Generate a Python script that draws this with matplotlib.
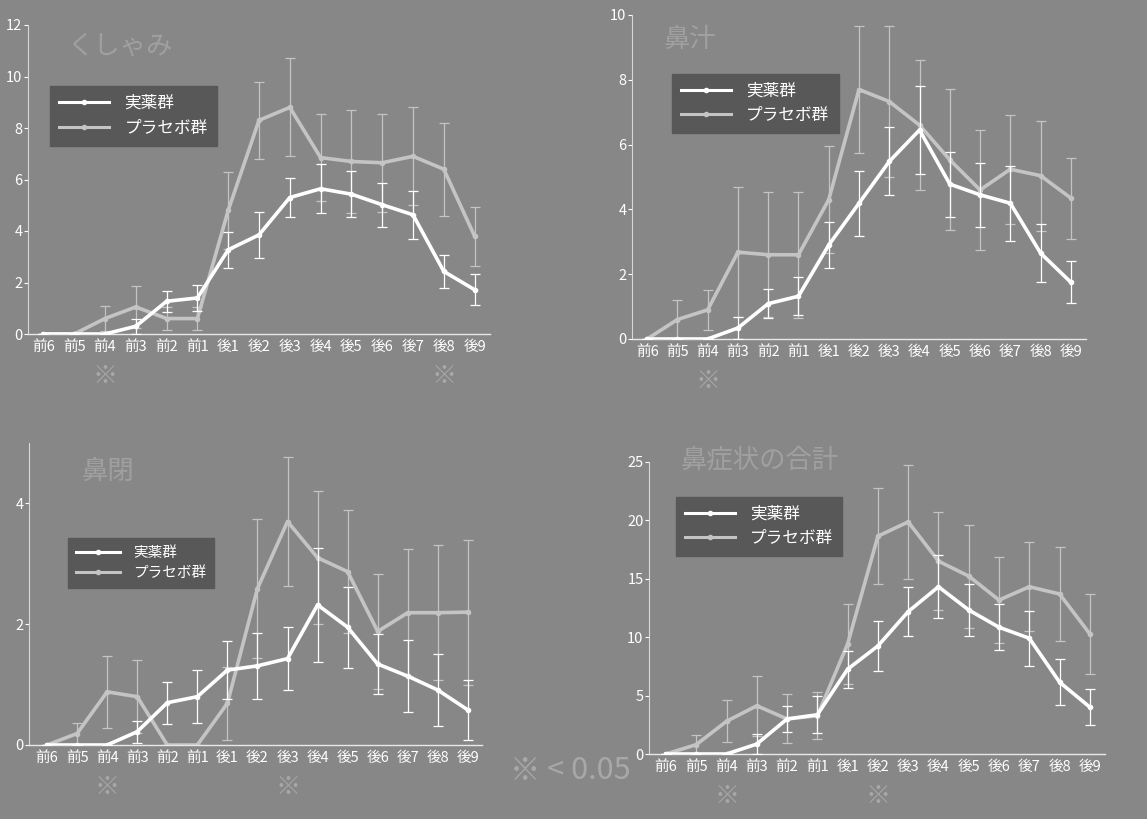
import numpy as np
import matplotlib.pyplot as plt
from matplotlib.lines import Line2D

plt.rcParams['font.family'] = ['Noto Sans CJK JP', 'DejaVu Sans']

labels = ['前6', '前5', '前4', '前3', '前2', '前1',
          '後1', '後2', '後3', '後4', '後5', '後6', '後7', '後8', '後9']

# くしゃみ
sneeze_act = [0, 0, 0, 0.3, 1.27, 1.4, 3.27, 3.85, 5.3, 5.64, 5.43, 5.02, 4.63, 2.43, 1.72]
sneeze_act_err = [0, 0, 0, 0.3, 0.4, 0.5, 0.7, 0.9, 0.75, 0.95, 0.9, 0.85, 0.93, 0.65, 0.6]
sneeze_pla = [0, 0, 0.6, 1.05, 0.6, 0.6, 4.8, 8.3, 8.8, 6.85, 6.7, 6.65, 6.9, 6.4, 3.8]
sneeze_pla_err = [0, 0, 0.5, 0.8, 0.45, 0.45, 1.5, 1.5, 1.9, 1.7, 2.0, 1.9, 1.9, 1.8, 1.15]

# 鼻汁
runny_act = [0, 0, 0, 0.34, 1.09, 1.32, 2.9, 4.19, 5.48, 6.45, 4.78, 4.45, 4.19, 2.65, 1.75]
runny_act_err = [0, 0, 0, 0.35, 0.45, 0.58, 0.72, 1.0, 1.05, 1.36, 1.0, 0.98, 1.16, 0.9, 0.65]
runny_pla = [0, 0.6, 0.9, 2.68, 2.6, 2.6, 4.3, 7.7, 7.33, 6.6, 5.53, 4.6, 5.24, 5.04, 4.35]
runny_pla_err = [0, 0.6, 0.62, 2.0, 1.93, 1.95, 1.65, 1.95, 2.33, 2.0, 2.18, 1.85, 1.68, 1.7, 1.25]

# 鼻閉
block_act = [0, 0, 0, 0.22, 0.7, 0.8, 1.24, 1.31, 1.43, 2.32, 1.95, 1.34, 1.14, 0.91, 0.58]
block_act_err = [0, 0, 0, 0.18, 0.35, 0.44, 0.48, 0.55, 0.52, 0.94, 0.67, 0.5, 0.6, 0.59, 0.5]
block_pla = [0, 0.19, 0.88, 0.8, 0, 0, 0.69, 2.59, 3.7, 3.1, 2.87, 1.88, 2.19, 2.19, 2.2]
block_pla_err = [0, 0.18, 0.6, 0.6, 0, 0, 0.6, 1.15, 1.06, 1.1, 1.02, 0.95, 1.05, 1.12, 1.2]

# 鼻症状の合計
total_act = [0, 0, 0, 0.85, 3.0, 3.36, 7.26, 9.25, 12.19, 14.32, 12.33, 10.85, 9.91, 6.15, 4.01]
total_act_err = [0, 0, 0, 0.85, 1.15, 1.6, 1.6, 2.15, 2.1, 2.7, 2.2, 1.95, 2.35, 1.95, 1.55]
total_pla = [0, 0.8, 2.8, 4.13, 3.0, 3.27, 9.42, 18.65, 19.87, 16.51, 15.23, 13.18, 14.32, 13.7, 10.28]
total_pla_err = [0, 0.85, 1.8, 2.55, 2.1, 2.0, 3.4, 4.1, 4.9, 4.2, 4.4, 3.7, 3.8, 4.05, 3.45]

bg = '#878787'
act_c = '#ffffff'
pla_c = '#c4c4c4'
title_c = '#a0a0a0'

panels = [
    dict(title='くしゃみ', act=sneeze_act, ae=sneeze_act_err, pla=sneeze_pla, pe=sneeze_pla_err,
         rect=[28/1147, 1-334/819, 462/1147, 309/819], ylim=12, yt=np.arange(0, 13, 2),
         xlim=(-0.5, 14.5), sig=[2, 13], title_xy=(0.085, 0.975), leg_xy=(0.03, 0.83), lfs=12),
    dict(title='鼻汁', act=runny_act, ae=runny_act_err, pla=runny_pla, pe=runny_pla_err,
         rect=[632/1147, 1-339/819, 454/1147, 324/819], ylim=10, yt=np.arange(0, 11, 2),
         xlim=(-0.5, 14.5), sig=[2], title_xy=(0.07, 0.965), leg_xy=(0.07, 0.845), lfs=12),
    dict(title='鼻閉', act=block_act, ae=block_act_err, pla=block_pla, pe=block_pla_err,
         rect=[29/1147, 1-745/819, 453/1147, 302/819], ylim=5, yt=[0, 2, 4],
         xlim=(-0.6, 14.47), sig=[2, 8], title_xy=(0.115, 0.95), leg_xy=(0.07, 0.71), lfs=10.5),
    dict(title='鼻症状の合計', act=total_act, ae=total_act_err, pla=total_pla, pe=total_pla_err,
         rect=[649/1147, 1-754/819, 456/1147, 292/819], ylim=25, yt=np.arange(0, 26, 5),
         xlim=(-0.56, 14.5), sig=[2, 7], title_xy=(0.07, 1.05), leg_xy=(0.04, 0.91), lfs=12),
]

fig = plt.figure(figsize=(11.47, 8.19), dpi=100, facecolor=bg)
x = np.arange(len(labels))

for p in panels:
    ax = fig.add_axes(p['rect'])
    ax.set_facecolor(bg)
    ax.errorbar(x, p['pla'], yerr=p['pe'], color=pla_c, lw=2.6, marker='o', ms=3,
                ecolor=pla_c, elinewidth=0.9, capsize=3.5, capthick=0.9, zorder=2)
    ax.errorbar(x, p['act'], yerr=p['ae'], color=act_c, lw=2.6, marker='o', ms=3,
                ecolor=act_c, elinewidth=0.9, capsize=3.5, capthick=0.9, zorder=3)
    ax.set_xlim(*p['xlim'])
    ax.set_ylim(0, p['ylim'])
    ax.set_yticks(p['yt'])
    ax.set_xticks(x)
    ax.set_xticklabels(labels)
    for s in ['top', 'right']:
        ax.spines[s].set_visible(False)
    ax.spines['left'].set_color('#d8d8d8')
    ax.spines['left'].set_linewidth(0.8)
    ax.spines['bottom'].set_color('#e8e8e8')
    ax.spines['bottom'].set_linewidth(1.0)
    ax.tick_params(axis='y', colors='white', labelsize=10.5, length=3, width=0.8, pad=1)
    ax.tick_params(axis='x', colors='white', labelsize=10.5, length=0, pad=4)
    ax.text(p['title_xy'][0], p['title_xy'][1], p['title'], transform=ax.transAxes,
            fontsize=19, color=title_c, va='top', ha='left')
    handles = [Line2D([], [], color=act_c, lw=2.2, marker='o', ms=3),
               Line2D([], [], color=pla_c, lw=2.2, marker='o', ms=3)]
    leg = ax.legend(handles, ['実薬群', 'プラセボ群'], loc='upper left', bbox_to_anchor=p['leg_xy'],
                    frameon=True, fancybox=False, fontsize=p['lfs'], labelcolor='white',
                    handlelength=3.0, handletextpad=0.9, borderpad=0.55, labelspacing=0.45,
                    numpoints=1)
    leg.get_frame().set_facecolor('#585858')
    leg.get_frame().set_edgecolor('#585858')
    leg.get_frame().set_alpha(1)
    for i in p['sig']:
        ax.annotate('※', xy=(i, 0), xycoords=('data', 'axes fraction'),
                    xytext=(0, -30), textcoords='offset points', ha='center', va='center',
                    fontsize=18, color='#a8a8a8')

fig.text(570/1147, 1-771/819, '※ < 0.05', fontsize=22, color='#a8a8a8',
         ha='center', va='center')

plt.savefig('out.png', dpi=100, facecolor=bg)
